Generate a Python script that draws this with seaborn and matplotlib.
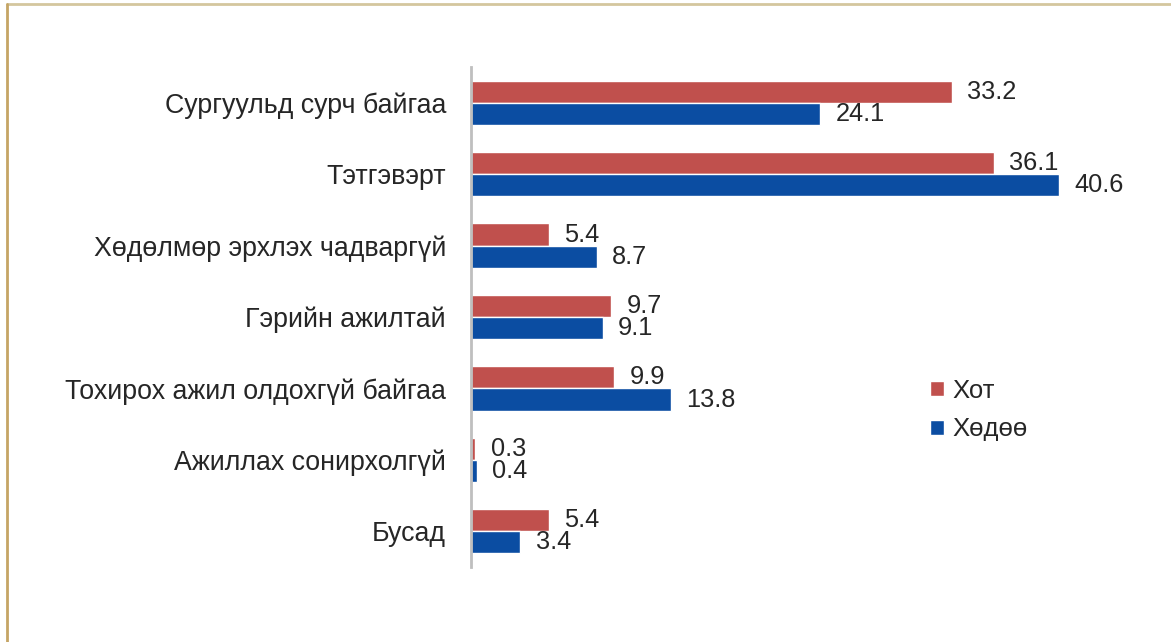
import matplotlib
matplotlib.use("Agg")
import matplotlib.pyplot as plt
import seaborn as sns
import pandas as pd
from matplotlib.lines import Line2D

categories = ["Сургуульд сурч байгаа", "Тэтгэвэрт", "Хөдөлмөр эрхлэх чадваргүй",
              "Гэрийн ажилтай", "Тохирох ажил олдохгүй байгаа", "Ажиллах сонирхолгүй", "Бусад"]
series_names = ["Хот", "Хөдөө"]
hot = [33.2, 36.1, 5.4, 9.7, 9.9, 0.3, 5.4]
khodoo = [24.1, 40.6, 8.7, 9.1, 13.8, 0.4, 3.4]
colors = ["#C0504D", "#0B4DA2"]

df = pd.DataFrame({
    "cat": categories * 2,
    "val": hot + khodoo,
    "series": [series_names[0]] * len(categories) + [series_names[1]] * len(categories),
})

sns.set_theme(style="white")
plt.rcParams['font.family'] = ['Liberation Sans', 'DejaVu Sans']

fig = plt.figure(figsize=(11.71, 6.42), dpi=100)
ax = fig.add_axes([471/1171, 1-567/642, (1130-471)/1171, 500/642])

sns.barplot(data=df, y="cat", x="val", hue="series", orient="h", palette=colors,
            width=0.62, ax=ax, saturation=1, legend=True)

ax.set_xlim(0, 45.5)
ax.set_ylim(6.5, -0.5)
ax.set_xlabel("")
ax.set_ylabel("")
ax.set_xticks([])
ax.tick_params(axis="y", length=0, pad=18, labelsize=19.3, labelcolor="#262626")
for s in ["top", "right", "bottom"]:
    ax.spines[s].set_visible(False)
ax.spines["left"].set_color("#BFBFBF")
ax.spines["left"].set_linewidth(2)

for cont in ax.containers:
    ax.bar_label(cont, fmt="%.1f", padding=11, fontsize=18.3, color="#262626")

handles, labels = ax.get_legend_handles_labels()
ax.legend(handles, labels, loc="center left", bbox_to_anchor=(907/1171, 1-410/642),
          bbox_transform=fig.transFigure, frameon=False, fontsize=18.5,
          handlelength=0.55, handleheight=0.55, handletextpad=0.3, labelspacing=0.58,
          labelcolor="#262626")

fig.add_artist(Line2D([7/1171, 1], [1-4/642, 1-4/642], color="#D4C69E", lw=2))
fig.add_artist(Line2D([7/1171, 7/1171], [0, 1-4/642], color="#C5A565", lw=2))

fig.savefig("out.png", dpi=100)
